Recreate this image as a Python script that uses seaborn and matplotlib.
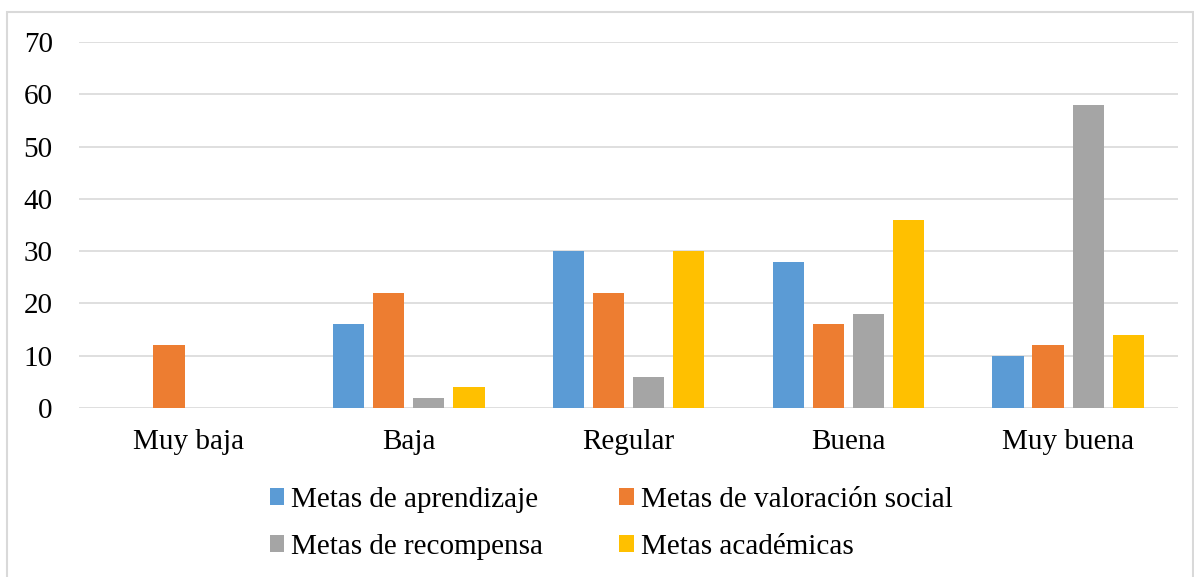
import matplotlib
matplotlib.use("Agg")
import matplotlib.pyplot as plt
import seaborn as sns
import pandas as pd
from matplotlib.patches import Rectangle

# Data
categorias = ["Muy baja", "Baja", "Regular", "Buena", "Muy buena"]
series = ["Metas de aprendizaje", "Metas de valoración social",
          "Metas de recompensa", "Metas académicas"]
aprendizaje = [0, 16, 30, 28, 10]
valoracion_social = [12, 22, 22, 16, 12]
recompensa = [0, 2, 6, 18, 58]
academicas = [0, 4, 30, 36, 14]
y_ticks = [0, 10, 20, 30, 40, 50, 60, 70]

colores = ["#5B9BD5", "#ED7D31", "#A5A5A5", "#FFC000"]

rows = []
for nombre, valores in zip(series, [aprendizaje, valoracion_social, recompensa, academicas]):
    for cat, v in zip(categorias, valores):
        rows.append({"Categoría": cat, "Serie": nombre, "Valor": v})
df = pd.DataFrame(rows)

sns.set_theme(style="white")
plt.rcParams["font.family"] = ["Liberation Serif", "DejaVu Serif"]
plt.rcParams["text.color"] = "black"

fig = plt.figure(figsize=(11.94, 5.77), dpi=100)
ax = fig.add_axes([0.0662, 0.2929, 0.9204, 0.6343])

sns.barplot(data=df, x="Categoría", y="Valor", hue="Serie", order=categorias,
            hue_order=series, palette=colores, width=0.73, gap=0.22,
            saturation=1, errorbar=None, ax=ax, legend=True,
            linewidth=0, edgecolor="none")

ax.set_ylim(0, 70)
ax.set_yticks(y_ticks)
ax.set_xlim(-0.5, 4.5)
ax.yaxis.grid(True, color="#D9D9D9", linewidth=1.2)
ax.set_axisbelow(True)
for s in ax.spines.values():
    s.set_visible(False)
ax.set_xlabel("")
ax.set_ylabel("")
ax.tick_params(axis="y", labelsize=21, pad=19, length=0, labelcolor="black")
ax.tick_params(axis="x", labelsize=21, pad=15, length=0, labelcolor="black")

# legend laid out row by row in two columns
handles, labels = ax.get_legend_handles_labels()
ax.get_legend().remove()
orden = [0, 2, 1, 3]
fig.legend([handles[i] for i in orden], [labels[i] for i in orden],
           loc="center", bbox_to_anchor=(0.512, 0.093),
           ncol=2, frameon=False, fontsize=21, handlelength=0.5,
           handleheight=0.5, handletextpad=0.25, columnspacing=2.6,
           labelspacing=0.7, labelcolor="black")

# chart-area border
fig.patches.append(Rectangle((7 / 1194, -0.01), 1186 / 1194, 1 - 12 / 577 + 0.01,
                             transform=fig.transFigure, fill=False,
                             edgecolor="#D9D9D9", linewidth=1.5))

fig.savefig("out.png", dpi=100)
